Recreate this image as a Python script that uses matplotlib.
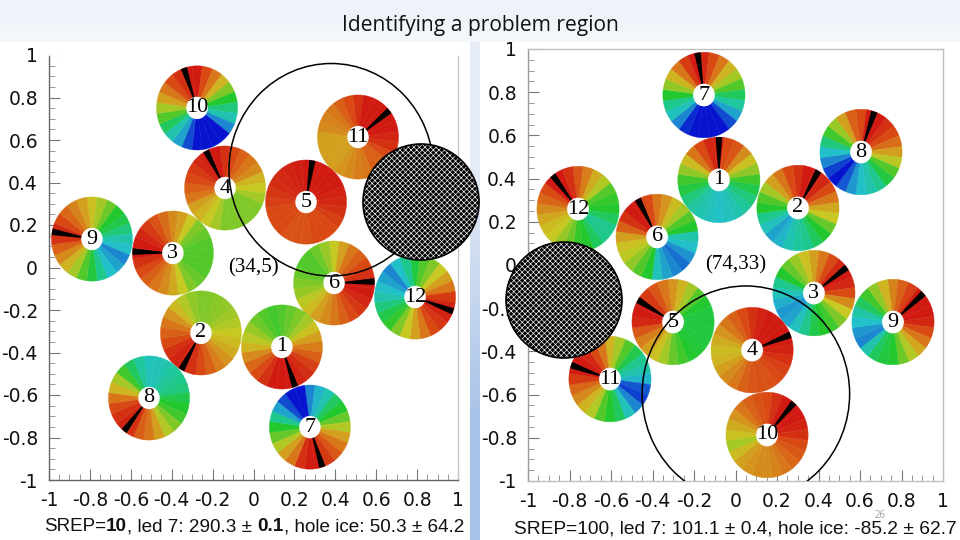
import numpy as np
import matplotlib
matplotlib.use('Agg')
import matplotlib.pyplot as plt
from matplotlib.colors import LinearSegmentedColormap
from matplotlib.patches import Wedge, Ellipse, Circle
from matplotlib.ticker import MultipleLocator

title = 'Identifying a problem region'
ticks = [-1, -0.8, -0.6, -0.4, -0.2, 0, 0.2, 0.4, 0.6, 0.8, 1]
tick_labels = ['-1', '-0.8', '-0.6', '-0.4', '-0.2', '0', '0.2', '0.4', '0.6', '0.8', '1']

# wheel centres and led directions (degrees clockwise from north)
left_labels = [10, 11, 4, 5, 9, 3, 6, 12, 2, 1, 8, 7]
left_x = [-0.276, 0.511, -0.139, 0.257, -0.79, -0.394, 0.394, 0.79, -0.257, 0.139, -0.511, 0.276]
left_y = [0.751, 0.614, 0.374, 0.308, 0.134, 0.068, -0.073, -0.139, -0.308, -0.374, -0.614, -0.751]
left_led = [341, 51, 332, 9, 280, 272, 88, 110, 209, 161, 218, 162]

right_labels = [7, 8, 1, 2, 12, 6, 3, 9, 5, 4, 11, 10]
right_x = [-0.152, 0.605, -0.08, 0.301, -0.759, -0.378, 0.378, 0.759, -0.301, 0.08, -0.605, 0.152]
right_y = [0.787, 0.523, 0.394, 0.264, 0.259, 0.13, -0.13, -0.264, -0.264, -0.394, -0.528, -0.787]
right_led = [351, 19, 0, 30, 322, 332, 53, 48, 301, 69, 289, 41]

# colour level of each 15 degree sector, clockwise from north (0 red ... 10 blue)
left_levels = [
    [0, 1, 2, 3.5, 5, 6, 6.8, 7.6, 9, 10, 10, 10, 10, 9.5, 8.5, 7.5, 6.5, 5.5, 4.5, 3, 2, 1, 0.5, 0],
    [0.5, 0, 0, 0, 0, 0, 0.3, 0.5, 1, 1.5, 1.5, 2, 2.2, 2.5, 2.7, 3, 3, 3, 3, 2.5, 2.3, 2, 1.5, 1],
    [0.5, 1, 1.5, 2, 2.5, 3.5, 4, 4.5, 5, 5, 5, 5, 5, 4.5, 4, 3.5, 3, 2, 1.5, 1, 0.7, 0.3, 0, 0],
    [0, 0, 0, 0, 0, 0.2, 0.3, 0.5, 0.8, 1, 1, 1, 1.2, 1.2, 1.2, 1, 1, 1, 0.8, 0.6, 0.4, 0.3, 0.2, 0.1],
    [3.8, 4.5, 5.2, 6, 6.3, 6.8, 7.5, 8, 9, 8.5, 8, 7, 6.2, 5.5, 4.5, 3.5, 2.5, 1.5, 0.5, 0.3, 1, 1.7, 2.3, 3],
    [2.5, 3, 4, 5, 5.3, 5.5, 5.5, 5.5, 5.5, 5.3, 5, 4, 3.2, 2.5, 2, 1.5, 1, 0.5, 0, 0, 0.3, 0.7, 1.2, 1.8],
    [4, 3, 2, 1.5, 1, 0.5, 0, 0, 0.3, 0.6, 1, 1.5, 2, 2.5, 3, 3.7, 4.2, 4.7, 5, 5.3, 5.5, 5.5, 5.2, 4.7],
    [6.2, 5.5, 5, 4, 3, 2, 0.7, 0.2, 0.2, 0.6, 1, 2, 3, 4, 5, 5.8, 6.3, 6.8, 7.5, 8, 8.5, 9, 8, 7],
    [5, 5, 4.9, 4.8, 4.6, 4.3, 4, 3.7, 3.3, 2.7, 2.2, 1.5, 1, 0.5, 0.2, 0.2, 0.5, 1, 1.5, 2, 2.7, 3.6, 4.3, 4.8],
    [5.5, 5.3, 5, 4.5, 3.8, 3, 2.2, 1.5, 0.8, 0.4, 0.2, 0, 0, 0, 0.5, 1, 1.7, 2.5, 3.5, 4.2, 4.7, 5.2, 5.5, 5.7],
    [7.8, 7.7, 7.5, 7.2, 7, 6.8, 6.3, 6, 5.7, 5, 4.3, 3, 2, 1.5, 0.5, 0.2, 0.5, 1, 2, 3.5, 4.5, 5.7, 6.5, 7.3],
    [9, 8.2, 7.5, 6.5, 6, 5.3, 4.3, 3, 2, 1.3, 0.7, 0, 0.1, 0.5, 2, 3, 4.3, 5.3, 6, 7, 8.5, 9.5, 10, 10],
]
right_levels = [
    [0.3, 1, 2, 3.5, 4.5, 5.5, 6.5, 7.3, 8.5, 9.5, 10, 10, 10, 10, 9.8, 9, 7.8, 7, 6, 4.8, 3.5, 2, 0.7, 0],
    [1, 0, 0, 0.5, 1, 1.8, 3, 4.2, 5.5, 6.2, 7, 7.5, 8, 8.7, 9.4, 10, 9.6, 9, 8, 6.8, 5.7, 4.7, 3, 1.5],
    [0, 1, 1.3, 2.5, 3.8, 4.8, 5.7, 6.3, 6.8, 7.2, 7.6, 7.8, 8, 7.8, 7.6, 7.3, 6.8, 6.2, 5.7, 4.8, 3.7, 2, 1, 0.3],
    [0.5, 0, 0, 0.3, 1, 2, 3.2, 4, 5.3, 6, 6.5, 7, 7.3, 7.6, 8.2, 8.5, 7.8, 7, 6, 5.5, 4.5, 3, 2, 1],
    [1.3, 2.2, 3.3, 4.3, 5.5, 5.8, 6, 6.5, 7, 7, 6.5, 6, 5.8, 5.2, 4.7, 4, 3.7, 3.2, 2.5, 1.7, 1, 0, 0, 0.5],
    [2, 2.7, 3.7, 4.5, 5.5, 6, 7.5, 8, 8.8, 9.2, 9, 8.5, 7.8, 6, 5.5, 4.8, 4.2, 3.8, 3, 1.5, 0.5, 0, 0, 1],
    [3, 2, 1, 0.3, 0, 0.3, 1, 2.5, 4, 5, 5.7, 6, 6.3, 7, 7.8, 8.5, 8.7, 8.3, 7.7, 7, 6, 5.3, 4.7, 3.8],
    [2.3, 1.5, 0.8, 0, 0, 0, 0.3, 1, 2, 3.2, 4.3, 5.2, 6, 6.2, 6.5, 7.5, 9, 8.7, 8, 7.4, 6.5, 5.7, 4.8, 3.5],
    [2.7, 3.5, 4.5, 5.5, 6, 6.2, 6.2, 6.2, 6.2, 6.1, 6, 5.7, 5.3, 4.5, 3.8, 3, 2.2, 1.3, 0.3, 0, 0, 0.7, 1.3, 2],
    [0.5, 0.2, 0, 0, 0, 0, 0.2, 0.5, 0.8, 1, 1.2, 1.2, 1.3, 1.5, 2, 2.5, 3, 3.5, 3.7, 3.3, 2.7, 2, 1.5, 1],
    [3.5, 4.5, 5.5, 6.3, 7, 7.5, 8.2, 9.4, 9.6, 9, 7.8, 6.5, 6, 5.5, 4.3, 3.5, 2.5, 1.7, 0.7, 0, 0, 0.3, 1, 2],
    [1, 0.5, 0, 0, 0, 0.2, 0.5, 1, 1.3, 1.7, 2, 2.3, 2.5, 2.5, 2.7, 3, 3.7, 4.5, 3.8, 3.3, 2.7, 2, 1.5, 1.2],
]

wheel_colors = ['#d01a12', '#d84a14', '#d8761a', '#d2a01e', '#c8c822', '#82c828',
                '#22c82e', '#1ec88c', '#22c0c8', '#1c88d0', '#0614d0']
cmap = LinearSegmentedColormap.from_list('wheel', wheel_colors)

fig = plt.figure(figsize=(9.6, 5.4), dpi=100)
W, H = 960.0, 540.0


def px_axes(x0, y_top, x1, y_bot):
    return fig.add_axes([x0/W, 1-y_bot/H, (x1-x0)/W, (y_bot-y_top)/H])


# slide background in pixel coordinates
bg = fig.add_axes([0, 0, 1, 1], zorder=-1)
bg.axis('off')
bg.imshow([[0.0], [1.0]], extent=(0, W, 42, 0), aspect='auto', interpolation='bilinear',
          cmap=LinearSegmentedColormap.from_list('top', ['#eef2f9', '#f3f6fb']))
bg.imshow([[0.0], [1.0]], extent=(470, 480, 540, 42), aspect='auto', interpolation='bilinear',
          cmap=LinearSegmentedColormap.from_list('band', ['#e6ecf6', '#a9c3e8']))
bg.set_xlim(0, W)
bg.set_ylim(H, 0)


def draw_panel(ax, labels, xs, ys, leds, levels, ring, ring_label, frame):
    ax.set_xlim(-1, 1)
    ax.set_ylim(-1, 1)
    ax.set_xticks(ticks)
    ax.set_yticks(ticks)
    ax.set_xticklabels(tick_labels)
    ax.set_yticklabels(tick_labels)
    ax.xaxis.set_minor_locator(MultipleLocator(0.05))
    ax.yaxis.set_minor_locator(MultipleLocator(0.05))
    ax.tick_params(which='major', direction='in', length=8, width=0.8, color='#777777',
                   labelsize=13.5, pad=8, labelcolor='#111111')
    ax.tick_params(which='minor', direction='in', length=4, width=0.6, color='#888888')
    for side, col in frame.items():
        ax.spines[side].set_color(col)
        ax.spines[side].set_linewidth(1.0)
    for label, cx, cy, led, level in zip(labels, xs, ys, leds, levels):
        for i, val in enumerate(level):
            col = cmap(val/10.0)
            ang = 15*i
            ax.add_patch(Wedge((cx, cy), 0.198, 90-ang-7.5, 90-ang+7.5, fc=col, ec=col, lw=0.3, zorder=2))
        ax.add_patch(Wedge((cx, cy), 0.198, 90-led-4.5, 90-led+4.5, fc='black', ec='none', zorder=3))
        ax.add_patch(Ellipse((cx, cy), 0.105, 0.105, fc='white', ec='none', zorder=4))
        ax.text(cx, cy, str(label), family='Liberation Serif', fontsize=16, ha='center', va='center', zorder=6)
    ax.add_patch(Ellipse(ring, 1.0, 1.0, fc='none', ec='black', lw=1.1, zorder=5))
    ax.text(ring_label[0], ring_label[1], ring_label[2], family='Liberation Serif', fontsize=15,
            ha='center', va='center', zorder=6)


left_ax = px_axes(49, 55, 458, 480)
draw_panel(left_ax, left_labels, left_x, left_y, left_led, left_levels, (0.38, 0.46), (0.0, 0.0, '(34,5)'),
           {'left': '#666666', 'bottom': '#666666', 'top': 'white', 'right': '#c8c8c8'})
right_ax = px_axes(528, 49, 943, 481)
draw_panel(right_ax, right_labels, right_x, right_y, right_led, right_levels, (0.05, -0.597), (0.0, 0.0, '(74,33)'),
           {'left': '#999999', 'bottom': '#c0c0c0', 'top': '#c0c0c0', 'right': '#c0c0c0'})

# slide overlay: masks, title, captions
top = fig.add_axes([0, 0, 1, 1], zorder=10)
top.set_xlim(0, W)
top.set_ylim(H, 0)
top.axis('off')
plt.rcParams['hatch.linewidth'] = 0.45
for cx, cy in [(421, 202), (564, 300)]:
    top.add_patch(Circle((cx, cy), 58, fc='black', ec='white', hatch='xxxxxx', lw=0))
    top.add_patch(Circle((cx, cy), 58, fc='none', ec='black', lw=1.2))

top.text(480, 25.5, title, family='Open Sans', fontsize=15.1, ha='center', va='center', color='#111111')
top.text(880, 515, '26', family='Open Sans', fontsize=7, ha='center', va='center', color='#a0a0a0')


def caption(x, y, size, parts):
    fig.canvas.draw()
    rend = fig.canvas.get_renderer()
    for txt, weight in parts:
        top.text(x, y, txt, family='Liberation Sans', fontsize=size, weight=weight, va='baseline', color='#111111')
        # trailing spaces are kept by measuring with a dot
        probe = top.text(0, 0, txt + '.', family='Liberation Sans', fontsize=size, weight=weight)
        dot = top.text(0, 0, '.', family='Liberation Sans', fontsize=size, weight=weight)
        x += probe.get_window_extent(rend).width - dot.get_window_extent(rend).width
        probe.remove()
        dot.remove()


caption(44, 531, 13.55, [('SREP=', 'normal'), ('10', 'bold'), (', led 7: 290.3 \u00b1 ', 'normal'), ('0.1', 'bold'),
                         (', hole ice: 50.3 \u00b1 64.2', 'normal')])
caption(514, 533, 13.8, [('SREP=100, led 7: 101.1 \u00b1 0.4, hole ice: -85.2 \u00b1 62.7', 'normal')])

fig.savefig('out.png', dpi=100)
